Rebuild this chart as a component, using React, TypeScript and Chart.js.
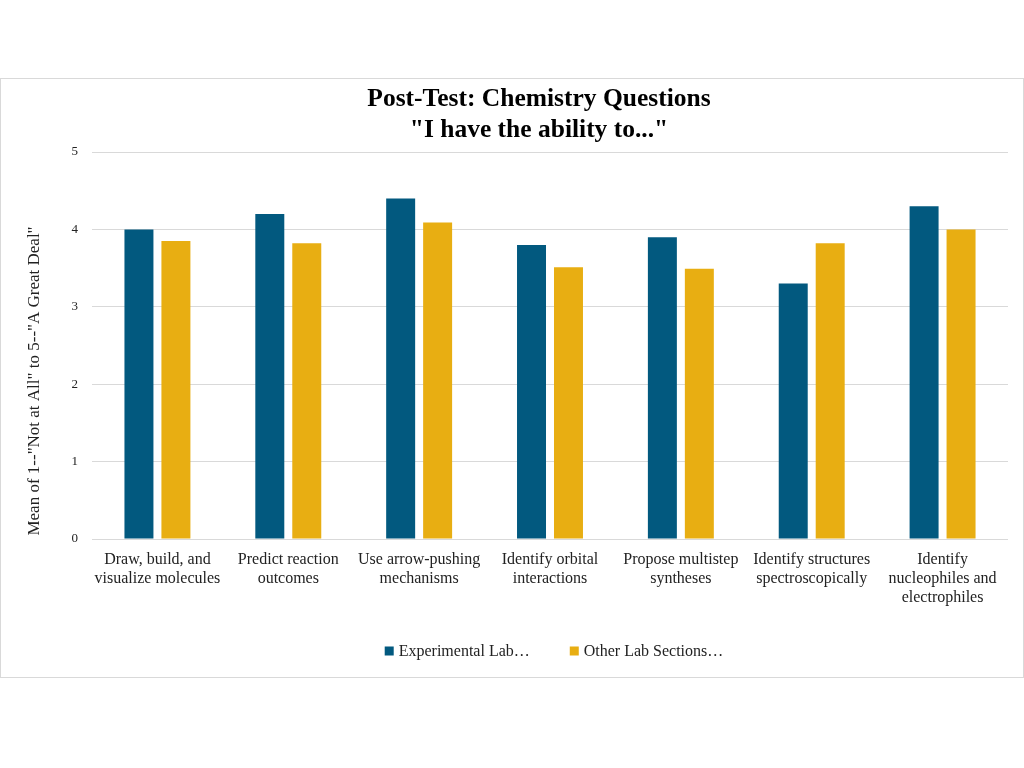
import React, { useEffect, useRef } from "react";
import { Chart, registerables } from "chart.js";

Chart.register(...registerables);

const categories: string[][] = [
  ["Draw, build, and", "visualize molecules"],
  ["Predict reaction", "outcomes"],
  ["Use arrow-pushing", "mechanisms"],
  ["Identify orbital", "interactions"],
  ["Propose multistep", "syntheses"],
  ["Identify structures", "spectroscopically"],
  ["Identify", "nucleophiles and", "electrophiles"],
];
const experimental = [4.0, 4.2, 4.4, 3.8, 3.9, 3.3, 4.3];
const otherSections = [3.85, 3.82, 4.09, 3.51, 3.49, 3.82, 4.0];
const seriesLabels = ["Experimental Lab…", "Other Lab Sections…"];
const seriesColors = ["#02597F", "#E8AE12"];
const titleLines = ["Post-Test: Chemistry Questions", "\"I have the ability to...\""];
const yAxisTitle = 'Mean of 1--"Not at All" to 5--"A Great Deal"';
const yMin = 0;
const yMax = 5;
const yStep = 1;

const FONT = "'Liberation Serif', 'Times New Roman', serif";

const overlayPlugin = {
  id: "overlayText",
  afterDraw(chart: any) {
    const ctx = chart.ctx as CanvasRenderingContext2D;
    const area = chart.chartArea;
    ctx.save();
    // Title
    ctx.fillStyle = "#000000";
    ctx.font = `bold 25.5px ${FONT}`;
    ctx.textAlign = "center";
    ctx.textBaseline = "middle";
    const tx = area.left + (area.right - area.left) * 0.488;
    ctx.fillText(titleLines[0], tx, 20);
    ctx.fillText(titleLines[1], tx, 51);
    // Y axis title
    ctx.save();
    ctx.font = `17px ${FONT}`;
    ctx.fillStyle = "#222222";
    ctx.translate(34, 302);
    ctx.rotate(-Math.PI / 2);
    ctx.fillText(yAxisTitle, 0, 0);
    ctx.restore();
    // Legend
    ctx.font = `16px ${FONT}`;
    ctx.textAlign = "left";
    ctx.textBaseline = "middle";
    const box = 9;
    const gap = 5;
    const spacing = 40;
    const widths = seriesLabels.map((l) => ctx.measureText(l).width);
    const total = widths.reduce((a, w) => a + box + gap + w, 0) + spacing * (seriesLabels.length - 1);
    let x = (area.left + area.right) / 2 + 4 - total / 2;
    const ly = 572;
    seriesLabels.forEach((l, i) => {
      ctx.fillStyle = seriesColors[i];
      ctx.fillRect(x, ly - box / 2, box, box);
      x += box + gap;
      ctx.fillStyle = "#222222";
      ctx.fillText(l, x, ly + 1);
      x += widths[i] + spacing;
    });
    ctx.restore();
  },
};

export default function App() {
  const ref = useRef<HTMLCanvasElement | null>(null);
  useEffect(() => {
    if (!ref.current) return;
    const chart = new Chart(ref.current, {
      type: "bar",
      data: {
        labels: categories,
        datasets: [
          {
            label: seriesLabels[0],
            data: experimental,
            backgroundColor: seriesColors[0],
            categoryPercentage: 0.565,
            barPercentage: 0.784,
          },
          {
            label: seriesLabels[1],
            data: otherSections,
            backgroundColor: seriesColors[1],
            categoryPercentage: 0.565,
            barPercentage: 0.784,
          },
        ],
      },
      options: {
        responsive: false,
        animation: false,
        layout: { padding: { top: 73, left: 0, right: 15, bottom: 0 } },
        plugins: {
          legend: { display: false },
          title: { display: false },
          tooltip: { enabled: false },
        },
        scales: {
          x: {
            grid: { display: false },
            border: { display: false },
            ticks: {
              color: "#222222",
              font: { family: FONT, size: 16, lineHeight: 1.19 },
              maxRotation: 0,
              autoSkip: false,
              padding: 3,
            },
            afterFit: (scale: any) => {
              scale.height = 138;
            },
          },
          y: {
            min: yMin,
            max: yMax,
            grid: { color: "#D9D9D9", drawTicks: false, lineWidth: 1 },
            border: { display: false },
            ticks: {
              stepSize: yStep,
              color: "#222222",
              font: { family: FONT, size: 13 },
              padding: 14,
            },
            afterFit: (scale: any) => {
              scale.width = 91;
            },
          },
        },
      },
      plugins: [overlayPlugin],
    });
    return () => chart.destroy();
  }, []);
  return (
    <div
      style={{
        position: "absolute",
        left: 0,
        top: 78,
        width: 1022,
        height: 598,
        border: "1px solid #D9D9D9",
        background: "#ffffff",
      }}
    >
      <canvas ref={ref} width={1022} height={598} style={{ display: "block" }} />
    </div>
  );
}
